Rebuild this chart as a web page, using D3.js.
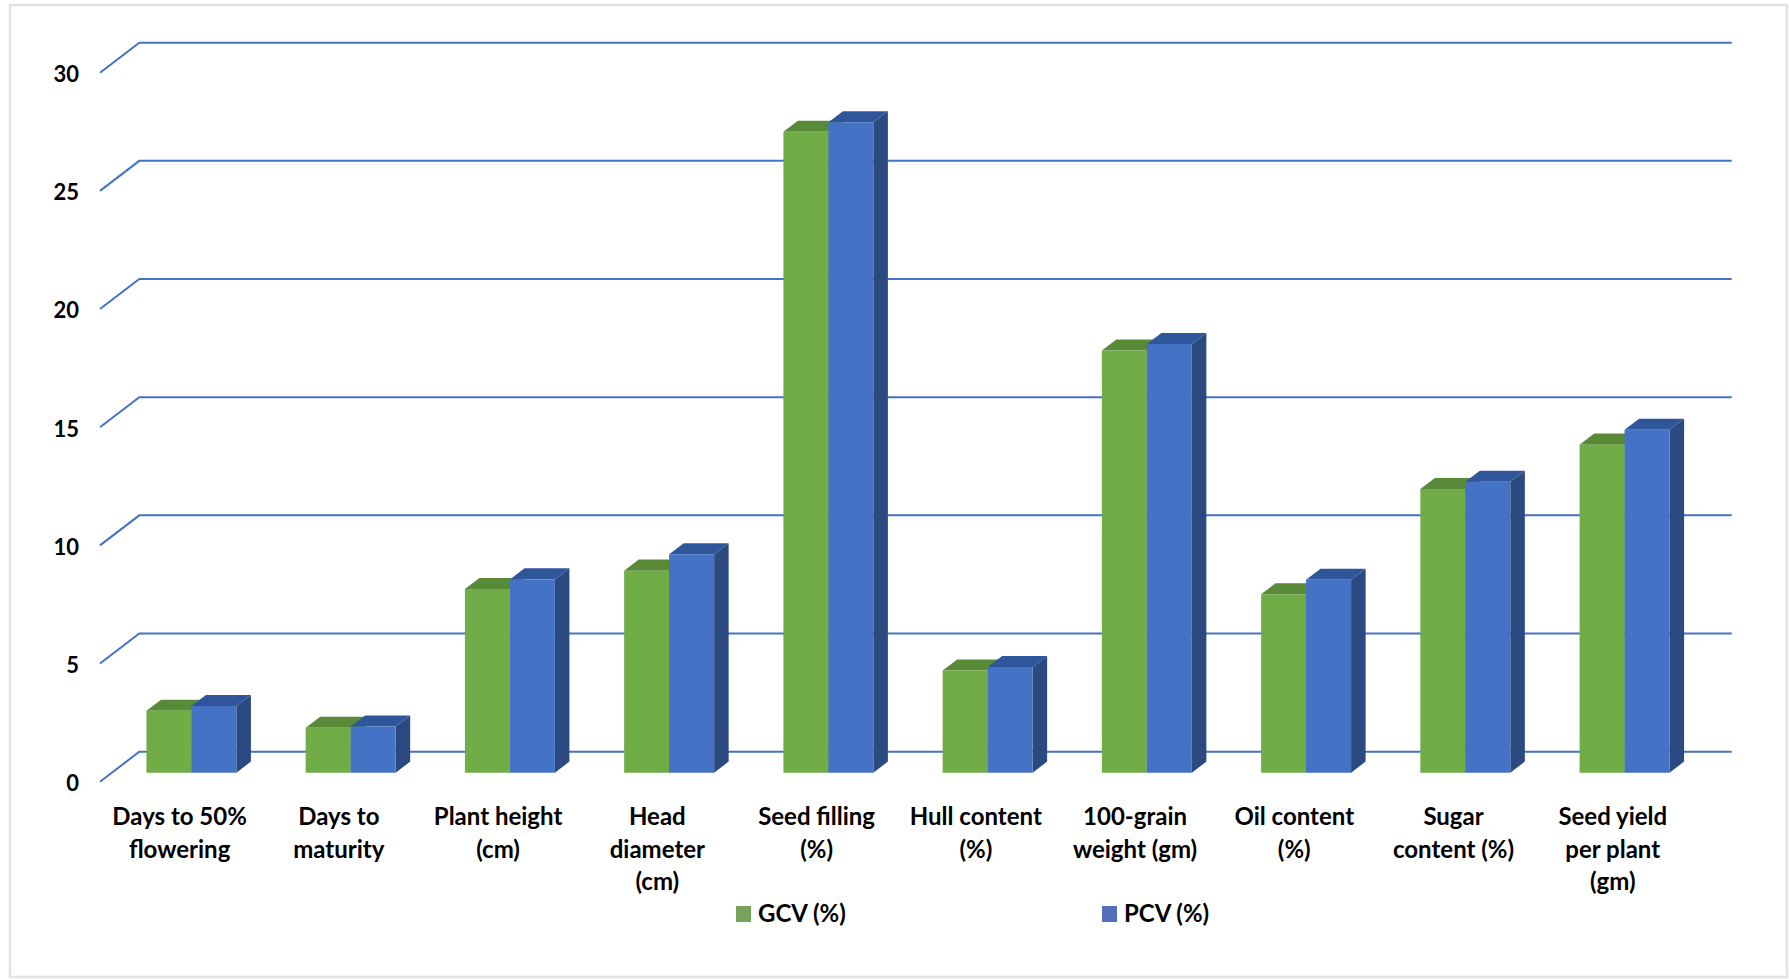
<!DOCTYPE html>
<html>
<head>
<meta charset="utf-8">
<script src="https://cdn.jsdelivr.net/npm/d3@7"></script>
<style>
  html, body { margin: 0; padding: 0; background: #ffffff; }
  svg { display: block; }
  text { font-family: Lato, "Open Sans", sans-serif; font-weight: 700; fill: #000; }
</style>
</head>
<body>
<svg id="chart" width="1789" height="979"></svg>
<script>
// Category labels (line breaks marked with \n)
const categories = [
  "Days to 50%\nflowering",
  "Days to\nmaturity",
  "Plant height\n(cm)",
  "Head\ndiameter\n(cm)",
  "Seed filling\n(%)",
  "Hull content\n(%)",
  "100-grain\nweight (gm)",
  "Oil content\n(%)",
  "Sugar\ncontent (%)",
  "Seed yield\nper plant\n(gm)"
];

// Series values
const gcv = [2.62, 1.90, 7.77, 8.55, 27.12, 4.32, 17.86, 7.55, 12.00, 13.88];
const pcv = [2.82, 1.95, 8.18, 9.24, 27.52, 4.47, 18.14, 8.16, 12.31, 14.51];

const seriesNames = ["GCV (%)", "PCV (%)"];
const yTicks = [0, 5, 10, 15, 20, 25, 30];

// Colours per series: front face, top face, side face
const palette = [
  { front: "#70ad47", top: "#588a37", side: "#4b7a2e", legend: "#79a35a" },
  { front: "#4472c4", top: "#2f569a", side: "#2c4a82", legend: "#5270b8" }
];

const svg = d3.select("#chart");

// Chart frame
svg.append("rect")
  .attr("x", 10).attr("y", 5)
  .attr("width", 1777).attr("height", 972)
  .attr("fill", "#ffffff")
  .attr("stroke", "#e2e2e2")
  .attr("stroke-width", 2.5);

// Oblique 3D projection: floor front edge runs along x, depth goes up-right
const depthX = 39.3, depthY = 30;
const floorLeft = 100, floorRight = 1692.4;
const frontBase = 781.7;

const x = d3.scaleBand()
  .domain(categories)
  .range([floorLeft, floorRight])
  .paddingInner(0.435)
  .paddingOuter(0.2175);

const xs = d3.scaleBand()
  .domain(seriesNames)
  .range([0, x.bandwidth()]);

// Value scale measured on the front plane (z = 0)
const y = d3.scaleLinear().domain([0, 30]).range([frontBase, frontBase - 709]);

// project a point (px on front plane, value v, depth z in [0,1])
function proj(px, v, z) {
  return [px + depthX * z, y(v) - depthY * z];
}

// Gridlines: side wall diagonal then back wall horizontal
const grid = svg.append("g");
yTicks.forEach(t => {
  const a = proj(floorLeft, t, 0);
  const b = proj(floorLeft, t, 1);
  const c = proj(floorRight, t, 1);
  grid.append("path")
    .attr("d", d3.line()([a, b, c]))
    .attr("fill", "none")
    .attr("stroke", "#4472c4")
    .attr("stroke-width", 2);
});

// Y tick labels
svg.append("g").selectAll("text")
  .data(yTicks)
  .join("text")
  .attr("x", floorLeft - 21)
  .attr("y", d => y(d))
  .attr("dy", "0.43em")
  .attr("text-anchor", "end")
  .attr("font-size", 22)
  .text(d => d);

// Bars: front face at z0, back face at z1
const z0 = 0.30, z1 = 0.67;
const bars = svg.append("g");
const seriesData = [gcv, pcv];

categories.forEach((cat, i) => {
  seriesData.forEach((vals, s) => {
    const v = vals[i];
    const xl = x(cat) + xs(seriesNames[s]);
    const xr = xl + xs.bandwidth();
    const col = palette[s];
    const fBL = proj(xl, 0, z0), fBR = proj(xr, 0, z0);
    const fTL = proj(xl, v, z0), fTR = proj(xr, v, z0);
    const bTL = proj(xl, v, z1), bTR = proj(xr, v, z1), bBR = proj(xr, 0, z1);
    // right side
    bars.append("path")
      .attr("d", d3.line()([fTR, bTR, bBR, fBR]) + "Z")
      .attr("fill", col.side);
    // top
    bars.append("path")
      .attr("d", d3.line()([fTL, fTR, bTR, bTL]) + "Z")
      .attr("fill", col.top);
    // front
    bars.append("path")
      .attr("d", d3.line()([fBL, fTL, fTR, fBR]) + "Z")
      .attr("fill", col.front);
  });
});

// Category labels
const labels = svg.append("g");
categories.forEach(cat => {
  const cx = x(cat) + x.bandwidth() / 2;
  const t = labels.append("text")
    .attr("x", cx)
    .attr("y", 825)
    .attr("text-anchor", "middle")
    .attr("font-size", 24);
  cat.split("\n").forEach((line, k) => {
    t.append("tspan")
      .attr("x", cx)
      .attr("dy", k === 0 ? 0 : 32.5)
      .text(line);
  });
});

// Legend
const legendX = [736, 1102];
const legend = svg.append("g");
seriesNames.forEach((name, s) => {
  legend.append("rect")
    .attr("x", legendX[s]).attr("y", 906)
    .attr("width", 15).attr("height", 16)
    .attr("fill", palette[s].legend);
  legend.append("text")
    .attr("x", legendX[s] + 22)
    .attr("y", 922)
    .attr("font-size", 24)
    .text(name);
});
</script>
</body>
</html>
